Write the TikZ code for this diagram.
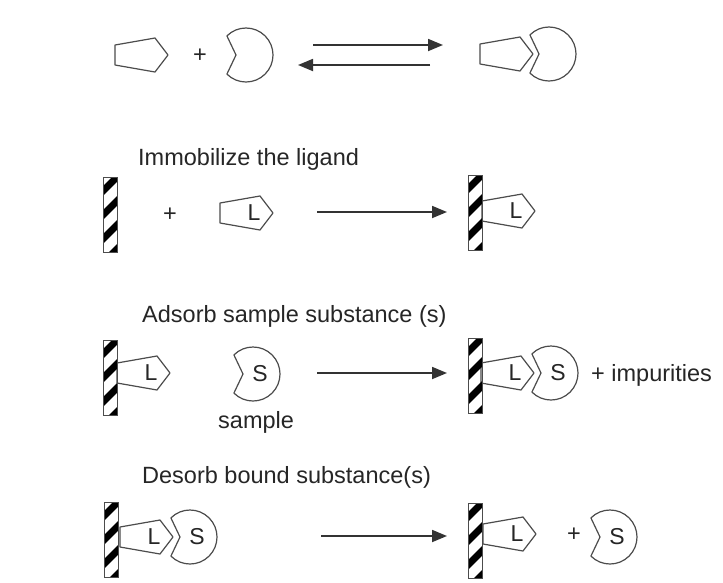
\documentclass[tikz,border=0pt]{standalone}
\usepackage{fontspec}
\setmainfont{Liberation Sans}
\usetikzlibrary{arrows.meta}

\begin{document}
\begin{tikzpicture}[x=1pt,y=-1pt,
    shapeline/.style={line width=1.2pt, black!70, line join=round},
    letter/.style={font=\fontsize{23}{26}\selectfont, text=black!85, inner sep=0pt},
    heading/.style={font=\fontsize{23.5}{28}\selectfont, text=black!85, inner sep=0pt},
    rxn/.style={-{Triangle[length=15pt,width=12pt]}, line width=1.8pt, black!80},
    ligand/.pic={
      \draw[shapeline, fill=white] (-53,-10) -- (-13,-17) -- (0,0) -- (-13,17) -- (-53,10) -- cycle;
      \node[letter] (lbl) at (-19,0) {#1};
    },
    receptor/.pic={
      \draw[shapeline, fill=white] (-10,0) -- (135:27) arc[start angle=135, end angle=-135, radius=27] -- cycle;
      \node[letter] (lbl) at (7,0) {#1};
    },
    support/.pic={
      \begin{scope}
        \clip (0,0) rectangle (14,75);
        \foreach \c in {14,38,62,86}
          \draw[line width=7pt, black] (-6,\c+6) -- (20,\c-20);
      \end{scope}
      \draw[line width=0.8pt, black!70] (0,0) rectangle (14,75);
    }]
    \fill[white] (0,0) rectangle (723,582);
    \useasboundingbox (0,0) rectangle (723,582);

    % Row 1: ligand + receptor <=> complex
    \pic (lig1) at (168,55) {ligand};
    \node[heading] (plus1) at (200,56) {+};
    \pic (rec1) at (246,55) {receptor};
    \coordinate (fwd1) at (313,45);
    \coordinate (fwd2) at (443,45);
    \coordinate (bwd1) at (430,65);
    \coordinate (bwd2) at (298,65);
    \draw[rxn] (fwd1) -- (fwd2);
    \draw[rxn] (bwd1) -- (bwd2);
    \pic (lig1c) at (533,54) {ligand};
    \pic (rec1c) at (549,54) {receptor};

    % Row 2: immobilize
    \node[heading, anchor=base west] (head2) at (138,165) {Immobilize the ligand};
    \pic (bar2a) at (103,177) {support};
    \node[heading] (plus2) at (170,215) {+};
    \pic (lig2) at (273,213) {ligand=L};
    \coordinate (a2s) at (317,212);
    \coordinate (a2e) at (447,212);
    \draw[rxn] (a2s) -- (a2e);
    \pic (lig2b) at (535,211) {ligand=L};
    \pic (bar2b) at (468,175) {support};

    % Row 3: adsorb
    \node[heading, anchor=base west] (head3) at (142,322) {Adsorb sample substance (s)};
    \pic (lig3a) at (170,373) {ligand=L};
    \pic (bar3a) at (103,340) {support};
    \pic (rec3a) at (253,374) {receptor=S};
    \node[heading, anchor=base west] (smp) at (218,428) {sample};
    \coordinate (a3s) at (317,373);
    \coordinate (a3e) at (447,373);
    \draw[rxn] (a3s) -- (a3e);
    \pic (lig3b) at (534,373) {ligand=L};
    \pic (bar3b) at (468,338) {support};
    \pic (rec3b) at (551,373) {receptor=S};
    \node[heading, anchor=base west] (imp) at (591,381) {+ impurities};

    % Row 4: desorb
    \node[heading, anchor=base west] (head4) at (142,483) {Desorb bound substance(s)};
    \pic (lig4a) at (173,537) {ligand=L};
    \pic (bar4a) at (104,502) {support};
    \pic (rec4a) at (190,537) {receptor=S};
    \coordinate (a4s) at (321,536);
    \coordinate (a4e) at (447,536);
    \draw[rxn] (a4s) -- (a4e);
    \pic (lig4b) at (536,534) {ligand=L};
    \pic (bar4b) at (468,503) {support};
    \node[heading] (plus4) at (574,535) {+};
    \pic (rec4b) at (610,537) {receptor=S};
\end{tikzpicture}
\end{document}
